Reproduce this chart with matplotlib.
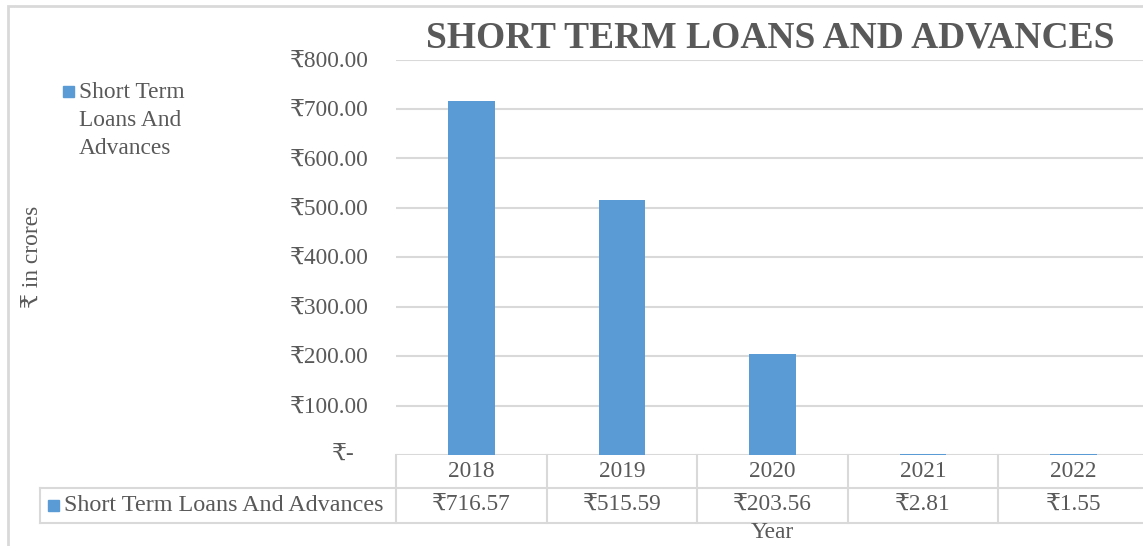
import matplotlib
matplotlib.use("Agg")
import matplotlib.pyplot as plt
import matplotlib.transforms as mtransforms
from matplotlib.patches import Rectangle

# data
years = ["2018", "2019", "2020", "2021", "2022"]
values = [716.57, 515.59, 203.56, 2.81, 1.55]
yticks = [100, 200, 300, 400, 500, 600, 700, 800]
series_name = "Short Term Loans And Advances"

plt.rcParams['font.family'] = ['Liberation Serif', 'DejaVu Serif', 'DejaVu Sans']

text_color = "#595959"
grid_color = "#d9d9d9"
bar_color = "#5b9bd5"
fs = 16.8

W, H = 1143, 546
fig = plt.figure(figsize=(W / 100, H / 100), dpi=100)

# axes area in pixels: left 396, right 1149, top 59.5, bottom 455
left, right, top, bottom = 396, 1149, 59.5, 455
ax = fig.add_axes([left / W, (H - bottom) / H, (right - left) / W, (bottom - top) / H])

x = list(range(len(years)))
ax.bar(x, values, width=0.31, color=bar_color, zorder=3)
ax.set_xlim(-0.5, len(years) - 0.5)
ax.set_ylim(0, 800)

for s in ax.spines.values():
    s.set_visible(False)
ax.set_xticks([])
ax.set_yticks(yticks)
ax.set_yticklabels(["\u20b9%.2f" % v for v in yticks])
ax.tick_params(axis='y', length=0, pad=19.5, labelsize=fs, labelcolor=text_color)
ax.grid(axis='y', color=grid_color, lw=1.5, zorder=0)
ax.axhline(0, color=grid_color, lw=1.5, zorder=0)

# zero tick label (accounting style)
off = mtransforms.offset_copy(ax.get_yaxis_transform(), fig=fig, x=-41, y=0, units='dots')
ax.text(0, 0, "\u20b9-", transform=off, ha='right', va='center', fontsize=fs, color=text_color)

# y label
ax.set_ylabel("\u20b9 in crores", fontsize=fs, color=text_color, labelpad=0)
ax.yaxis.set_label_coords((44 - left) / (right - left), 0.5)

# title
fig.text(770 / W, 1 - 38 / H, "SHORT TERM LOANS AND ADVANCES", ha='center', va='center',
         fontsize=27, fontweight='bold', color=text_color)

# data table below the axes
ah = bottom - top
aw = right - left
r1 = -(488 - bottom) / ah
r2 = -(523 - bottom) / ah
leg_x = (40 - left) / aw
tr = ax.get_xaxis_transform()
line_kw = dict(color=grid_color, lw=1.5, clip_on=False)
for b in [i - 0.5 for i in range(len(years) + 1)]:
    ax.plot([b, b], [0, r2], transform=tr, **line_kw)
ax.plot([leg_x, 1.01], [r1, r1], transform=ax.transAxes, **line_kw)
ax.plot([leg_x, 1.01], [r2, r2], transform=ax.transAxes, **line_kw)
ax.plot([leg_x, leg_x], [r1, r2], transform=ax.transAxes, **line_kw)
for i, (yr, v) in enumerate(zip(years, values)):
    ax.text(i, r1 / 2, yr, transform=tr, ha='center', va='center', fontsize=fs, color=text_color)
    ax.text(i, (r1 + r2) / 2, "\u20b9%.2f" % v, transform=tr, ha='center', va='center',
            fontsize=fs, color=text_color)
ax.add_patch(Rectangle(((48 - left) / aw, -(500 - bottom) / ah), 11 / aw, -11 / ah,
                       transform=ax.transAxes, color=bar_color, clip_on=False))
ax.text((64 - left) / aw, (r1 + r2) / 2, series_name, transform=ax.transAxes,
        ha='left', va='center', fontsize=17.4, color=text_color)

# x label
ax.text(0.5, -(533 - bottom) / ah, "Year", transform=ax.transAxes, ha='center', va='center',
        fontsize=fs, color=text_color)

# legend at top left
fig.patches.append(Rectangle((63 / W, 1 - 97 / H), 11 / W, 11 / H, transform=fig.transFigure,
                             color=bar_color))
fig.text(79 / W, 1 - 82 / H, "Short Term\nLoans And\nAdvances", ha='left', va='top',
         fontsize=fs, color=text_color, linespacing=1.45)

# chart border
fig.patches.append(Rectangle((8 / W, -0.1), 1.2, 1 - 6 / H + 0.1, transform=fig.transFigure,
                             fill=False, edgecolor=grid_color, lw=2))

fig.savefig("out.png", dpi=100)
